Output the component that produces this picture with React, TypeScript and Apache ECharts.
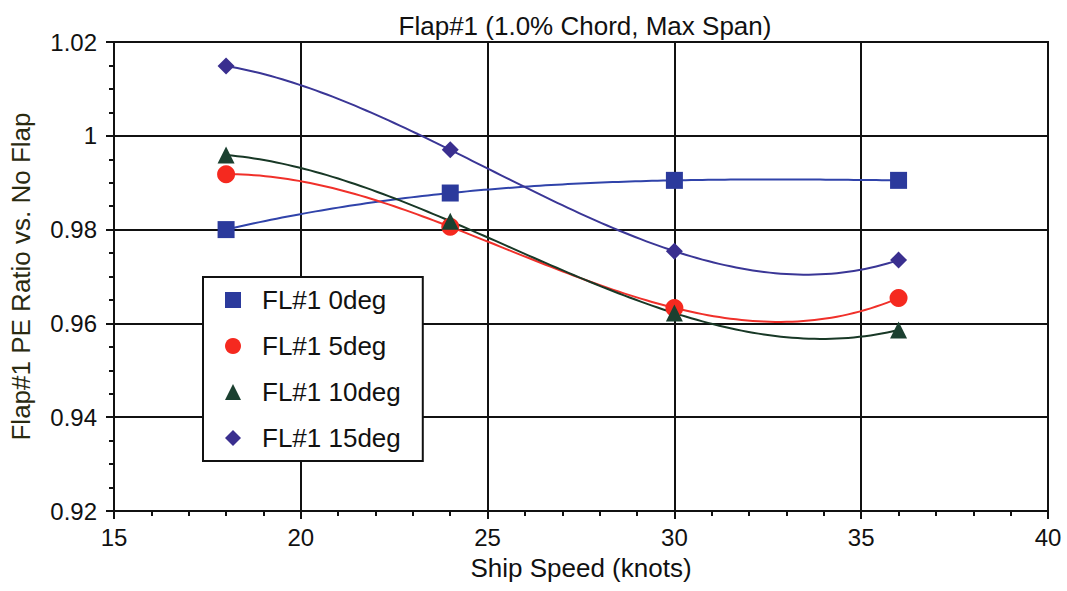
import React, { useEffect, useRef } from "react";
import * as echarts from "echarts";

const speeds = [18, 24, 30, 36];
const fl0 = [0.980, 0.9878, 0.9905, 0.9905];
const fl5 = [0.9918, 0.9806, 0.9633, 0.9654];
const fl10 = [0.9959, 0.9818, 0.9622, 0.9586];
const fl15 = [1.0149, 0.997, 0.9754, 0.9735];
const seriesNames = ["FL#1 0deg", "FL#1 5deg", "FL#1 10deg", "FL#1 15deg"];

const FONT = "Liberation Sans, Arial, sans-serif";

// Interpolating polynomial through the data points (Lagrange form)
function interp(xs: number[], ys: number[], x: number): number {
  let sum = 0;
  for (let i = 0; i < xs.length; i++) {
    let term = ys[i];
    for (let j = 0; j < xs.length; j++) {
      if (j !== i) term *= (x - xs[j]) / (xs[i] - xs[j]);
    }
    sum += term;
  }
  return sum;
}

export default function App() {
  const ref = useRef<HTMLDivElement>(null);
  useEffect(() => {
    const chart = echarts.init(ref.current!, undefined, { renderer: "svg" });
    const mk = (vals: number[]) => speeds.map((s, i) => [s, vals[i]]);

    const curve = (id: string, vals: number[], color: string) => ({
      name: id,
      type: "custom",
      data: mk(vals),
      encode: { x: 0, y: 1 },
      z: 2,
      silent: true,
      renderItem: (params: any, api: any) => {
        if (params.dataIndex !== 0) return null;
        const x0 = speeds[0];
        const x1 = speeds[speeds.length - 1];
        const steps = 120;
        const pts: number[][] = [];
        for (let k = 0; k <= steps; k++) {
          const x = x0 + ((x1 - x0) * k) / steps;
          pts.push(api.coord([x, interp(speeds, vals, x)]));
        }
        return {
          type: "polyline",
          shape: { points: pts },
          style: { stroke: color, lineWidth: 2, fill: "none" },
        };
      },
    });

    const marks = (name: string, vals: number[], symbol: string, size: number, color: string) => ({
      name,
      type: "scatter",
      data: mk(vals),
      symbol,
      symbolSize: size,
      itemStyle: { color, opacity: 1 },
      z: 4,
    });

    chart.setOption({
      animation: false,
      backgroundColor: "#fff",
      title: {
        text: "Flap#1 (1.0% Chord, Max Span)",
        left: 580,
        textAlign: "center",
        top: 8,
        textStyle: { fontFamily: FONT, fontSize: 26, fontWeight: "normal", color: "#111" },
      },
      grid: {
        left: 110,
        right: 19,
        top: 42,
        bottom: 80,
        show: true,
        borderColor: "#111",
        borderWidth: 2,
        backgroundColor: "transparent",
      },
      legend: {
        orient: "vertical",
        left: 203,
        top: 277,
        backgroundColor: "#fff",
        borderColor: "#111",
        borderWidth: 2,
        borderRadius: 0,
        padding: [10, 22, 10, 22],
        itemGap: 20,
        itemWidth: 16,
        itemHeight: 16,
        textStyle: { fontFamily: FONT, fontSize: 26, color: "#111", padding: [0, 0, 0, 16] },
        data: [
          { name: seriesNames[0], icon: "rect" },
          { name: seriesNames[1], icon: "circle" },
          { name: seriesNames[2], icon: "triangle" },
          { name: seriesNames[3], icon: "diamond" },
        ],
        z: 10,
      },
      xAxis: {
        type: "value",
        min: 15,
        max: 40,
        interval: 5,
        name: "Ship Speed (knots)",
        nameLocation: "middle",
        nameGap: 44,
        nameTextStyle: { fontFamily: FONT, fontSize: 26, color: "#111" },
        axisLine: { show: true, lineStyle: { color: "#111", width: 2 } },
        axisTick: { show: true, length: 8, lineStyle: { color: "#111", width: 2 } },
        minorTick: { show: true, splitNumber: 5, length: 5, lineStyle: { color: "#111", width: 2 } },
        axisLabel: { fontFamily: FONT, fontSize: 24, color: "#111", margin: 14 },
        splitLine: { show: true, lineStyle: { color: "#111", width: 2 } },
      },
      yAxis: {
        type: "value",
        min: 0.92,
        max: 1.02,
        interval: 0.02,
        name: "Flap#1 PE Ratio vs. No Flap",
        nameLocation: "middle",
        nameGap: 80,
        nameTextStyle: { fontFamily: FONT, fontSize: 26, color: "#2a2a10" },
        axisLine: { show: true, lineStyle: { color: "#111", width: 2 } },
        axisTick: { show: true, length: 8, lineStyle: { color: "#111", width: 2 } },
        minorTick: { show: true, splitNumber: 4, length: 5, lineStyle: { color: "#111", width: 2 } },
        axisLabel: {
          fontFamily: FONT,
          fontSize: 24,
          color: "#111",
          margin: 17,
          formatter: (v: number) => String(parseFloat(v.toFixed(2))),
        },
        splitLine: { show: true, lineStyle: { color: "#111", width: 2 } },
      },
      series: [
        curve("c0", fl0, "#3043aa"),
        curve("c5", fl5, "#f0302a"),
        curve("c10", fl10, "#183826"),
        curve("c15", fl15, "#3a3696"),
        marks(seriesNames[0], fl0, "rect", 17, "#2b3a9c"),
        marks(seriesNames[1], fl5, "circle", 18, "#f5291f"),
        marks(seriesNames[2], fl10, "triangle", 17, "#1b4030"),
        marks(seriesNames[3], fl15, "diamond", 17, "#3a2f8f"),
      ],
    });
    return () => chart.dispose();
  }, []);
  return <div ref={ref} style={{ width: 1067, height: 591, position: "absolute", left: 0, top: 0 }} />;
}
